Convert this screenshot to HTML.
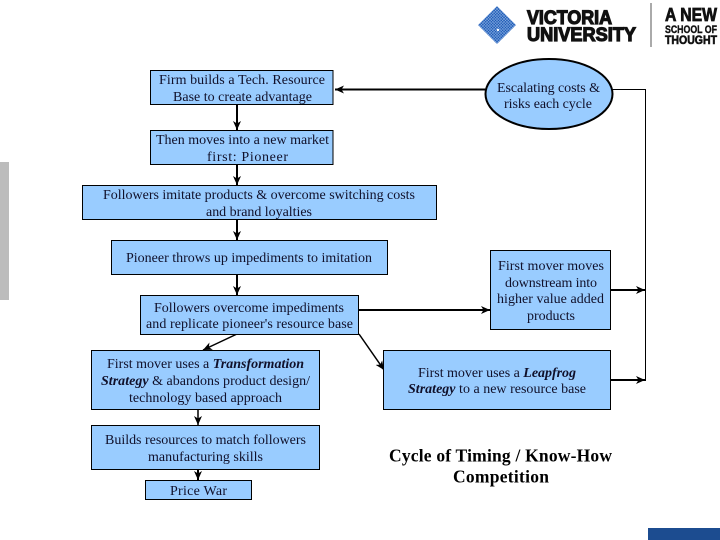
<!DOCTYPE html>
<html>
<head>
<meta charset="utf-8">
<style>
html,body{margin:0;padding:0;background:#fff;width:720px;height:540px;overflow:hidden}
svg{display:block}
.t{font-family:"Liberation Serif",serif;font-size:14px;fill:#10102a}
.b{fill:#99ccff;stroke:#000;stroke-width:1}
.l{stroke:#000;stroke-width:2;fill:none}
.h{font-family:"Liberation Serif",serif;font-size:17.500px;font-weight:bold;fill:#000}
.lg{font-family:"Liberation Sans",sans-serif;font-weight:bold;fill:#111;stroke:#111}
</style>
</head>
<body>
<svg width="720" height="540" viewBox="0 0 720 540" xmlns="http://www.w3.org/2000/svg">
<defs>
<pattern id="dots" width="2" height="2" patternUnits="userSpaceOnUse" patternTransform="rotate(45 497 25)">
<rect width="2" height="2" fill="#8fb2e4"/>
<rect width="1.500" height="1.500" fill="#1a58b4"/>
</pattern>
<marker id="a" markerWidth="10" markerHeight="10" refX="9" refY="5" orient="auto" markerUnits="userSpaceOnUse">
<path d="M0 1 L9 5 L0 9 L2.500 5 Z" fill="#000"/>
</marker>
</defs>

<rect x="0" y="162" width="9" height="138" fill="#bcbcbc"/>
<rect x="648" y="528" width="72" height="12" fill="#1c4c90"/>

<!-- logo -->
<polygon points="497,6 516,25 497,44 478,25" fill="url(#dots)"/>
<circle cx="498" cy="30" r="1.200" fill="#fff"/>
<text class="lg" x="527" y="24" font-size="19" stroke-width="1.200" textLength="85" lengthAdjust="spacingAndGlyphs">VICTORIA</text>
<text class="lg" x="527" y="41" font-size="19" stroke-width="1.200" textLength="109" lengthAdjust="spacingAndGlyphs">UNIVERSITY</text>
<rect x="650.500" y="3" width="1" height="44" fill="#555"/>
<text class="lg" x="665" y="21" font-size="18" stroke-width=".8" textLength="52" lengthAdjust="spacingAndGlyphs">A NEW</text>
<text class="lg" x="665" y="33" font-size="11" stroke-width=".4" textLength="52" lengthAdjust="spacingAndGlyphs">SCHOOL OF</text>
<text class="lg" x="665" y="44" font-size="12" stroke-width=".6" textLength="52" lengthAdjust="spacingAndGlyphs">THOUGHT</text>

<!-- connectors -->
<path class="l" d="M237 104V130" marker-end="url(#a)"/>
<path class="l" d="M237 164V185" marker-end="url(#a)"/>
<path class="l" d="M237 219V240" marker-end="url(#a)"/>
<path class="l" d="M237 274V295" marker-end="url(#a)"/>
<path class="l" d="M237 334L203 350" style="stroke-width:1.500" marker-end="url(#a)"/>
<path class="l" d="M198 409V425" style="stroke-width:1.500" marker-end="url(#a)"/>
<path class="l" d="M198 469V480" marker-end="url(#a)"/>
<path class="l" d="M359 334L384 370" style="stroke-width:1.500" marker-end="url(#a)"/>
<path class="l" d="M359 310H490" marker-end="url(#a)"/>
<path class="l" d="M610 290H645" marker-end="url(#a)"/>
<path class="l" d="M610 380H645" marker-end="url(#a)"/>
<path d="M612 89.500H645.500V381" fill="none" stroke="#000" stroke-width="1"/>
<path class="l" d="M486 89.500H335" marker-end="url(#a)"/>

<!-- boxes -->
<rect class="b" x="150.500" y="70.500" width="182.500" height="34"/>
<rect class="b" x="150.500" y="130.500" width="182.500" height="34"/>
<rect class="b" x="82.500" y="185.500" width="354" height="34"/>
<rect class="b" x="111.500" y="240.500" width="276" height="34"/>
<rect class="b" x="140.500" y="295.500" width="218" height="39"/>
<rect class="b" x="91.500" y="350.500" width="228" height="59"/>
<rect class="b" x="91.500" y="425.500" width="228" height="44"/>
<rect class="b" x="145.500" y="480.500" width="106" height="19"/>
<rect class="b" x="490.500" y="250.500" width="120" height="79"/>
<rect class="b" x="383.500" y="350.500" width="227" height="59"/>
<ellipse cx="549" cy="94" rx="63.500" ry="35" fill="#99ccff" stroke="#000" stroke-width="2"/>

<!-- labels -->
<text class="t" x="159" y="84" textLength="166">Firm builds a Tech. Resource</text>
<text class="t" x="173" y="101" textLength="139">Base to create advantage</text>
<text class="t" x="156" y="144" textLength="173">Then moves into a new market</text>
<text class="t" x="207" y="161" textLength="81">first: Pioneer</text>
<text class="t" x="103" y="199" textLength="312">Followers imitate products &amp; overcome switching costs</text>
<text class="t" x="206" y="216" textLength="106">and brand loyalties</text>
<text class="t" x="126" y="262" textLength="246">Pioneer throws up impediments to imitation</text>
<text class="t" x="154" y="312" textLength="190">Followers overcome impediments</text>
<text class="t" x="146" y="328" textLength="207">and replicate pioneer's resource base</text>
<text class="t" x="107" y="368" textLength="197">First mover uses a <tspan font-weight="bold" font-style="italic">Transformation</tspan></text>
<text class="t" x="101" y="385" textLength="209"><tspan font-weight="bold" font-style="italic">Strategy</tspan> &amp; abandons product design/</text>
<text class="t" x="129" y="402" textLength="153">technology based approach</text>
<text class="t" x="105" y="444" textLength="201">Builds resources to match followers</text>
<text class="t" x="148" y="461" textLength="115">manufacturing skills</text>
<text class="t" x="170" y="495" textLength="57">Price War</text>
<text class="t" x="497" y="92" textLength="103">Escalating costs &amp;</text>
<text class="t" x="504" y="108" textLength="88">risks each cycle</text>
<text class="t" x="498" y="270" textLength="106">First mover moves</text>
<text class="t" x="505" y="287" textLength="92">downstream into</text>
<text class="t" x="497" y="303" textLength="107">higher value added</text>
<text class="t" x="527" y="320" textLength="48">products</text>
<text class="t" x="418" y="377" textLength="158">First mover uses a <tspan font-weight="bold" font-style="italic">Leapfrog</tspan></text>
<text class="t" x="408" y="393" textLength="178"><tspan font-weight="bold" font-style="italic">Strategy</tspan> to a new resource base</text>
<text class="h" x="389" y="461.500" textLength="223">Cycle of Timing / Know-How</text>
<text class="h" x="453" y="482.500" textLength="96">Competition</text>
</svg>
</body>
</html>
